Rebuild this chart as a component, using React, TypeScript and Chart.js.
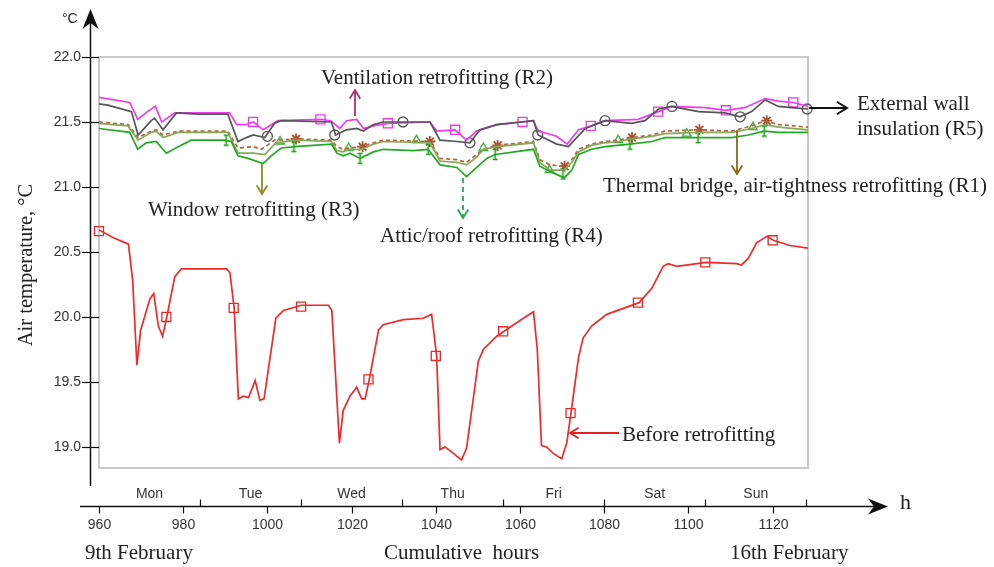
import React, { useEffect, useRef } from "react";
import { Chart, registerables } from "chart.js";

Chart.register(...registerables);

// ---------- DATA ----------
const beforeHours = [960, 963.4, 967, 968, 969, 969.9, 972.1, 973, 974.1, 975.1, 976.1, 978, 979.6, 990.3, 991.1, 992.1, 993.1, 994.3, 995.5, 997.1, 998.2, 999.2, 1002, 1003.8, 1008.1, 1014.5, 1015.3, 1017.1, 1018, 1019.6, 1021.2, 1022.4, 1023.2, 1024.2, 1026.4, 1027.5, 1032.3, 1037, 1039, 1040.2, 1041, 1042.2, 1043.8, 1046.1, 1047.3, 1050.1, 1051.3, 1054.4, 1056.2, 1060.8, 1063.2, 1064.1, 1065.1, 1066.3, 1067.9, 1069.9, 1071.1, 1072.1, 1073.9, 1075, 1077, 1080.6, 1088.3, 1091.3, 1094, 1095.2, 1097.2, 1104.2, 1111.5, 1112.6, 1114.2, 1116.2, 1118.6, 1120.2, 1124.1, 1128.4];
const beforeTemps = [20.67, 20.61, 20.56, 20.28, 19.63, 19.9, 20.14, 20.18, 19.93, 19.85, 20.0, 20.31, 20.37, 20.37, 20.34, 20.07, 19.37, 19.39, 19.38, 19.51, 19.36, 19.37, 19.99, 20.05, 20.09, 20.09, 20.05, 19.03, 19.28, 19.39, 19.46, 19.37, 19.37, 19.52, 19.9, 19.94, 19.98, 19.99, 20.02, 19.7, 18.98, 19.0, 18.96, 18.9, 18.99, 19.66, 19.75, 19.85, 19.89, 19.99, 20.04, 19.75, 19.01, 19.0, 18.95, 18.91, 19.03, 19.26, 19.69, 19.84, 19.93, 20.02, 20.11, 20.22, 20.39, 20.41, 20.39, 20.42, 20.41, 20.4, 20.45, 20.57, 20.62, 20.59, 20.55, 20.53];
const beforeMarkerHours = [960, 976, 992, 1008, 1024, 1040, 1056, 1072, 1088, 1104, 1120];
const beforeMarkerTemps = [20.66, 20.0, 20.07, 20.08, 19.52, 19.7, 19.89, 19.26, 20.11, 20.42, 20.59];

const r2Hours = [960, 967.3, 969.2, 971.5, 973.4, 974.9, 978, 991, 992.7, 995, 996.7, 999, 1002.5, 1012.8, 1015, 1017.2, 1018.8, 1021.2, 1022.8, 1025.2, 1028.7, 1038.6, 1040.2, 1044.6, 1047.3, 1049.7, 1054.5, 1060.6, 1063.2, 1064.3, 1068.7, 1071.2, 1073.9, 1077, 1080.2, 1088.1, 1092.9, 1096, 1103.9, 1108.9, 1113.4, 1118.2, 1121.4, 1124.9, 1128.4];
const r2Temps = [21.69, 21.65, 21.52, 21.58, 21.62, 21.5, 21.57, 21.57, 21.48, 21.48, 21.5, 21.44, 21.51, 21.52, 21.51, 21.45, 21.51, 21.52, 21.45, 21.47, 21.49, 21.5, 21.43, 21.44, 21.36, 21.43, 21.48, 21.5, 21.51, 21.43, 21.39, 21.33, 21.44, 21.47, 21.51, 21.52, 21.58, 21.62, 21.61, 21.59, 21.61, 21.68, 21.66, 21.65, 21.62];
const r2MarkerHours = [996.6, 1012.6, 1028.6, 1044.6, 1060.6, 1076.8, 1092.8, 1108.9, 1124.9];
const r2MarkerTemps = [21.5, 21.52, 21.49, 21.44, 21.5, 21.47, 21.58, 21.59, 21.65];

const r5Hours = [960, 962.1, 967.7, 969.3, 972.4, 973.2, 975.2, 978.4, 983.5, 990.6, 993, 995, 996.6, 999.4, 1001.7, 1003.3, 1015.2, 1016.2, 1018.8, 1021.2, 1022.8, 1025.2, 1027.5, 1038.6, 1041, 1045, 1048.1, 1050.5, 1054.5, 1063.2, 1064.3, 1068.7, 1071.5, 1075.5, 1080.2, 1086.5, 1089.7, 1092.9, 1096, 1102.4, 1108.7, 1112.3, 1115, 1118.2, 1121.4, 1124.5, 1128.4];
const r5Temps = [21.64, 21.63, 21.58, 21.4, 21.51, 21.53, 21.44, 21.57, 21.56, 21.56, 21.35, 21.38, 21.4, 21.38, 21.49, 21.51, 21.5, 21.4, 21.44, 21.45, 21.43, 21.48, 21.5, 21.5, 21.36, 21.35, 21.34, 21.44, 21.48, 21.51, 21.4, 21.33, 21.31, 21.45, 21.51, 21.49, 21.51, 21.6, 21.62, 21.58, 21.57, 21.54, 21.58, 21.67, 21.62, 21.61, 21.6];
const r5MarkerHours = [1000, 1016, 1032.2, 1048.1, 1064.2, 1080.2, 1096.1, 1112.3, 1128.2];
const r5MarkerTemps = [21.39, 21.4, 21.5, 21.34, 21.4, 21.51, 21.62, 21.54, 21.6];

const r1Hours = [960, 966.9, 969.3, 972.4, 973.6, 975.2, 978.8, 990.6, 993, 996.6, 998.6, 1001.7, 1006.9, 1015.2, 1016.5, 1018, 1019.4, 1022.4, 1025.2, 1027.5, 1038.6, 1041, 1045, 1047.3, 1049.7, 1051.3, 1054.5, 1063.2, 1064.7, 1067.1, 1070.5, 1072.3, 1073.9, 1077, 1080.2, 1083.4, 1086.5, 1091.3, 1094.4, 1102.4, 1110.3, 1115, 1118.2, 1121.4, 1128.4];
const r1Temps = [21.5, 21.48, 21.38, 21.43, 21.44, 21.4, 21.43, 21.43, 21.3, 21.31, 21.29, 21.36, 21.37, 21.36, 21.31, 21.29, 21.3, 21.31, 21.34, 21.36, 21.35, 21.22, 21.21, 21.19, 21.25, 21.29, 21.32, 21.35, 21.21, 21.17, 21.16, 21.21, 21.29, 21.33, 21.35, 21.36, 21.38, 21.4, 21.43, 21.44, 21.43, 21.47, 21.51, 21.48, 21.46];
const r1MarkerHours = [1006.8, 1022.6, 1038.6, 1054.7, 1070.6, 1086.6, 1102.6, 1118.6];
const r1MarkerTemps = [21.37, 21.31, 21.35, 21.32, 21.16, 21.38, 21.44, 21.51];

const r4Hours = [960, 966.9, 969.3, 972.4, 973.6, 975.2, 978.8, 990.6, 993, 996.6, 999.4, 1002, 1006.9, 1015.2, 1016.5, 1018, 1019.4, 1022.4, 1025.2, 1027.5, 1038.6, 1041, 1045, 1047.3, 1049.7, 1051.3, 1054.5, 1063.2, 1064.7, 1067.1, 1070.5, 1072.3, 1073.9, 1077, 1080.2, 1083.4, 1086.5, 1091.3, 1094.4, 1102.4, 1110.3, 1115, 1118.2, 1121.4, 1128.4];
const r4Temps = [21.49, 21.47, 21.36, 21.42, 21.43, 21.38, 21.42, 21.42, 21.26, 21.26, 21.25, 21.34, 21.36, 21.35, 21.28, 21.27, 21.29, 21.29, 21.33, 21.35, 21.34, 21.2, 21.19, 21.17, 21.23, 21.29, 21.31, 21.34, 21.19, 21.13, 21.13, 21.19, 21.27, 21.32, 21.34, 21.35, 21.37, 21.39, 21.41, 21.42, 21.42, 21.45, 21.48, 21.46, 21.44];
const r4MarkerHours = [1003, 1019.3, 1035.4, 1051.3, 1067, 1083.3, 1099.6, 1115.3];
const r4MarkerTemps = [21.35, 21.3, 21.36, 21.3, 21.13, 21.36, 21.41, 21.46];

const r3Hours = [960, 967.3, 969.2, 971.2, 973.6, 976, 978.8, 981.9, 989.8, 991.4, 993, 995.4, 999, 1000.9, 1003.3, 1006.5, 1015.2, 1016.5, 1018, 1019.6, 1022, 1025.2, 1027.5, 1034.7, 1038.2, 1041, 1045, 1047.3, 1049.7, 1052.1, 1054.1, 1063.2, 1064.7, 1067.1, 1070.5, 1072.3, 1073.9, 1077, 1080.2, 1086.1, 1091.3, 1094.4, 1102.4, 1110.3, 1114.2, 1118, 1121.4, 1128.4];
const r3Temps = [21.45, 21.42, 21.29, 21.34, 21.35, 21.26, 21.31, 21.36, 21.36, 21.35, 21.24, 21.22, 21.18, 21.24, 21.3, 21.31, 21.33, 21.26, 21.24, 21.26, 21.22, 21.27, 21.29, 21.28, 21.29, 21.17, 21.15, 21.08, 21.15, 21.22, 21.25, 21.29, 21.16, 21.12, 21.07, 21.13, 21.25, 21.29, 21.31, 21.33, 21.35, 21.38, 21.38, 21.38, 21.4, 21.43, 21.42, 21.42];
const r3MarkerHours = [990.2, 1006.3, 1022, 1038.2, 1054.1, 1070.2, 1086.1, 1102.3, 1118];
const r3MarkerTemps = [21.36, 21.31, 21.22, 21.29, 21.25, 21.1, 21.33, 21.38, 21.43];

const yTickValues = [19.0, 19.5, 20.0, 20.5, 21.0, 21.5, 22.0];
const xTickValues = [960, 980, 1000, 1020, 1040, 1060, 1080, 1100, 1120];
const dayBoundaries = [984, 1008, 1032, 1056, 1080, 1104, 1128];
const dayCenters = [972, 996, 1020, 1044, 1068, 1092, 1116];
const dayNames = ["Mon", "Tue", "Wed", "Thu", "Fri", "Sat", "Sun"];

const X_MIN = 960;
const X_MAX = 1128.4;
const Y_MIN = 18.838;
const Y_MAX = 22.0;

const SANS = '"Liberation Sans", Arial, sans-serif';
const SERIF = '"Liberation Serif", "Times New Roman", serif';

const pairs = (hs: number[], ts: number[]) => hs.map((h, i) => ({ x: h, y: ts[i] }));

function makeIMarker(color: string) {
  const c = document.createElement("canvas");
  c.width = 7;
  c.height = 13;
  const g = c.getContext("2d")!;
  g.strokeStyle = color;
  g.lineWidth = 1.6;
  g.beginPath();
  g.moveTo(3.5, 1);
  g.lineTo(3.5, 12);
  g.moveTo(1, 1.5);
  g.lineTo(6, 1.5);
  g.moveTo(1, 11.5);
  g.lineTo(6, 11.5);
  g.stroke();
  return c;
}

function openArrow(ctx: CanvasRenderingContext2D, x1: number, y1: number, x2: number, y2: number, color: string, dash: number[] = [], head = 10, width = 1.8) {
  ctx.save();
  ctx.strokeStyle = color;
  ctx.lineWidth = width;
  ctx.setLineDash(dash);
  ctx.beginPath();
  ctx.moveTo(x1, y1);
  ctx.lineTo(x2, y2);
  ctx.stroke();
  ctx.setLineDash([]);
  const ang = Math.atan2(y2 - y1, x2 - x1);
  const a1 = ang + Math.PI - 0.55;
  const a2 = ang + Math.PI + 0.55;
  ctx.beginPath();
  ctx.moveTo(x2 + head * Math.cos(a1), y2 + head * Math.sin(a1));
  ctx.lineTo(x2, y2);
  ctx.lineTo(x2 + head * Math.cos(a2), y2 + head * Math.sin(a2));
  ctx.stroke();
  ctx.restore();
}

const decorPlugin = {
  id: "decor",
  beforeDatasetsDraw(chart: any) {
    const { ctx, chartArea: a } = chart;
    ctx.save();
    ctx.strokeStyle = "#c9c9c9";
    ctx.lineWidth = 2;
    ctx.strokeRect(a.left, a.top, a.right - a.left, a.bottom - a.top);
    ctx.restore();
  },
  afterDraw(chart: any) {
    const { ctx } = chart;
    const xs = chart.scales.x;
    const ys = chart.scales.y;
    const axisX = 90.5;
    const axisY = 506.5;
    ctx.save();
    ctx.strokeStyle = "#111";
    ctx.fillStyle = "#111";
    ctx.lineWidth = 1.5;
    // y axis line
    ctx.beginPath();
    ctx.moveTo(axisX, 20);
    ctx.lineTo(axisX, 486);
    ctx.stroke();
    // y arrow head
    ctx.beginPath();
    ctx.moveTo(axisX, 9);
    ctx.lineTo(axisX + 8, 29);
    ctx.lineTo(axisX, 23);
    ctx.lineTo(axisX - 8, 29);
    ctx.closePath();
    ctx.fill();
    // x axis line
    ctx.beginPath();
    ctx.moveTo(80, axisY);
    ctx.lineTo(878, axisY);
    ctx.stroke();
    ctx.beginPath();
    ctx.moveTo(888, axisY);
    ctx.lineTo(868, axisY - 8);
    ctx.lineTo(874, axisY);
    ctx.lineTo(868, axisY + 8);
    ctx.closePath();
    ctx.fill();

    // y ticks
    ctx.lineWidth = 1.2;
    ctx.font = `14px ${SANS}`;
    ctx.fillStyle = "#333";
    ctx.textAlign = "right";
    ctx.textBaseline = "middle";
    yTickValues.forEach((v) => {
      const py = Math.round(ys.getPixelForValue(v)) + 0.5;
      ctx.beginPath();
      ctx.moveTo(82, py);
      ctx.lineTo(99, py);
      ctx.stroke();
      ctx.fillText(v.toFixed(1), 81, py);
    });

    // x ticks
    ctx.textAlign = "center";
    ctx.textBaseline = "middle";
    xTickValues.forEach((h) => {
      const px = Math.round(xs.getPixelForValue(h)) + 0.5;
      ctx.beginPath();
      ctx.moveTo(px, axisY);
      ctx.lineTo(px, axisY + 7);
      ctx.stroke();
      ctx.fillText(String(h), px, 525);
    });
    dayBoundaries.forEach((h) => {
      const px = Math.round(xs.getPixelForValue(h)) + 0.5;
      ctx.beginPath();
      ctx.moveTo(px, axisY);
      ctx.lineTo(px, axisY - 7);
      ctx.stroke();
    });
    ctx.font = `14px ${SANS}`;
    dayCenters.forEach((h, i) => {
      ctx.fillText(dayNames[i], xs.getPixelForValue(h), 494);
    });

    // unit labels
    ctx.fillStyle = "#222";
    ctx.font = `14px ${SANS}`;
    ctx.textAlign = "left";
    ctx.fillText("°C", 62, 19);
    ctx.font = `22px ${SERIF}`;
    ctx.fillText("h", 900, 503);

    // bottom texts
    ctx.font = `21px ${SERIF}`;
    ctx.textAlign = "left";
    ctx.fillText("9th February", 85, 553);
    ctx.fillText("Cumulative  hours", 384, 553);
    ctx.fillText("16th February", 730, 553);

    // y title
    ctx.save();
    ctx.translate(27, 265);
    ctx.rotate(-Math.PI / 2);
    ctx.textAlign = "center";
    ctx.font = `20.5px ${SERIF}`;
    ctx.fillText("Air temperature, °C", 0, 0);
    ctx.restore();

    // annotations
    ctx.font = `21px ${SERIF}`;
    ctx.fillStyle = "#222";
    ctx.textAlign = "left";
    ctx.fillText("Ventilation retrofitting (R2)", 321, 78);
    ctx.fillText("External wall", 857, 104);
    ctx.fillText("insulation (R5)", 857, 129);
    ctx.fillText("Thermal bridge, air-tightness retrofitting (R1)", 603, 186);
    ctx.fillText("Window retrofitting (R3)", 148, 210);
    ctx.fillText("Attic/roof retrofitting (R4)", 380, 236);
    ctx.fillText("Before retrofitting", 622, 435);

    openArrow(ctx, 355, 116, 355, 90, "#b0306c");
    openArrow(ctx, 809, 108, 847, 108, "#111", [], 12, 2);
    openArrow(ctx, 737, 130, 737, 174, "#8b6a1a");
    openArrow(ctx, 262, 163, 262, 194, "#8c8c2a");
    openArrow(ctx, 463, 178, 463, 218, "#27a85a", [5, 4]);
    openArrow(ctx, 619, 433, 570, 433, "#e52222");
    ctx.restore();
  },
};

export default function App() {
  const ref = useRef<HTMLCanvasElement | null>(null);
  useEffect(() => {
    if (!ref.current) return;
    const iMarker = makeIMarker("#1a9e1a");
    const line = (label: string, hs: number[], ts: number[], color: string, extra: any = {}) => ({
      label,
      data: pairs(hs, ts),
      borderColor: color,
      backgroundColor: color,
      borderWidth: 1.7,
      pointRadius: 0,
      fill: false,
      tension: 0,
      ...extra,
    });
    const markers = (label: string, hs: number[], ts: number[], color: string, style: any, radius: number, extra: any = {}) => ({
      label,
      data: pairs(hs, ts),
      showLine: false,
      borderColor: color,
      backgroundColor: "rgba(0,0,0,0)",
      pointStyle: style,
      pointRadius: radius,
      pointBorderWidth: 1.3,
      clip: false,
      ...extra,
    });
    const chart = new Chart(ref.current, {
      type: "line",
      data: {
        datasets: [
          line("R3", r3Hours, r3Temps, "#22a922"),
          line("R4", r4Hours, r4Temps, "#86a85a"),
          line("R1", r1Hours, r1Temps, "#b3623a", { borderDash: [4, 3] }),
          line("R5", r5Hours, r5Temps, "#555555"),
          line("R2", r2Hours, r2Temps, "#ee3cee"),
          line("Before", beforeHours, beforeTemps, "#ee2a2a"),
          markers("R3m", r3MarkerHours, r3MarkerTemps, "#1a9e1a", iMarker, 6),
          markers("R4m", r4MarkerHours, r4MarkerTemps, "#3aae3a", "triangle", 5),
          markers("R1m", r1MarkerHours, r1MarkerTemps, "#a8502e", "star", 5.5, { pointBorderWidth: 1.8 }),
          markers("R5m", r5MarkerHours, r5MarkerTemps, "#555555", "circle", 5),
          markers("R2m", r2MarkerHours, r2MarkerTemps, "#e83ce8", "rect", 6.4),
          markers("Beforem", beforeMarkerHours, beforeMarkerTemps, "#e52a2a", "rect", 6.4),
        ],
      },
      options: {
        animation: false,
        responsive: false,
        maintainAspectRatio: false,
        layout: { padding: { left: 99, top: 57, right: 186, bottom: 99 } },
        plugins: { legend: { display: false }, tooltip: { enabled: false } },
        scales: {
          x: { type: "linear", min: X_MIN, max: X_MAX, display: false },
          y: { type: "linear", min: Y_MIN, max: Y_MAX, display: false },
        },
      },
      plugins: [decorPlugin],
    });
    return () => chart.destroy();
  }, []);
  return (
    <div style={{ position: "fixed", left: 0, top: 0, width: 994, height: 567, background: "#fff" }}>
      <canvas ref={ref} width={994} height={567} style={{ width: 994, height: 567 }} />
    </div>
  );
}
